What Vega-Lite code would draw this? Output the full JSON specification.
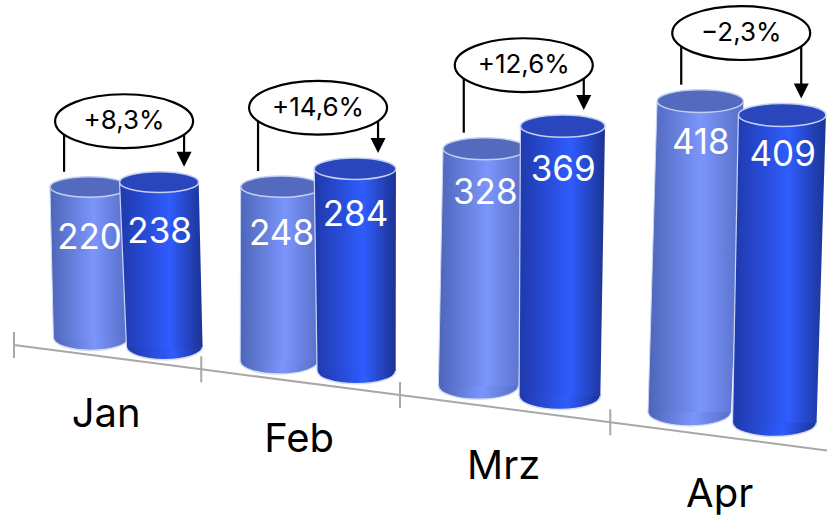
{"$schema":"https://vega.github.io/schema/vega-lite/v6.json","width":827,"height":515,"padding":0,"autosize":"none","background":"white","config":{"view":{"stroke":null}},
"datasets":{"bars":[
{"month":"Jan","series":"A","value":220,"change":"+8,3%"},{"month":"Jan","series":"B","value":238,"change":"+8,3%"},
{"month":"Feb","series":"A","value":248,"change":"+14,6%"},{"month":"Feb","series":"B","value":284,"change":"+14,6%"},
{"month":"Mrz","series":"A","value":328,"change":"+12,6%"},{"month":"Mrz","series":"B","value":369,"change":"+12,6%"},
{"month":"Apr","series":"A","value":418,"change":"−2,3%"},{"month":"Apr","series":"B","value":409,"change":"−2,3%"}],
"axisTicks":[{"tick":0,"month":"Jan"},{"tick":1,"month":"Feb"},{"tick":2,"month":"Mrz"},{"tick":3,"month":"Apr"},{"tick":4,"month":""}]},
"layer":[
{"data":{"name":"axisTicks"},"transform":[{"calculate":"14+181.5*datum.tick+5.75*datum.tick*datum.tick","as":"ax"},{"calculate":"345+0.1297*(datum.ax-14)","as":"ay"}],"mark":{"type":"line","color":"#a8a8a8","strokeWidth":2,"clip":true},"encoding":{"x":{"field":"ax","type":"quantitative","scale":{"domain":[0,827],"nice":false,"zero":false},"axis":null},"y":{"field":"ay","type":"quantitative","scale":{"domain":[0,515],"nice":false,"zero":false,"reverse":true},"axis":null}}},
{"data":{"name":"axisTicks"},"transform":[{"filter":"datum.tick<4"},{"calculate":"14+181.5*datum.tick+5.75*datum.tick*datum.tick","as":"ax"},{"calculate":"345+0.1297*(datum.ax-14)-13","as":"a1"},{"calculate":"datum.a1+26","as":"a2"}],"mark":{"type":"rule","color":"#a8a8a8","strokeWidth":2},"encoding":{"x":{"field":"ax","type":"quantitative"},"y":{"field":"a1","type":"quantitative"},"y2":{"field":"a2"}}},
{"data":{"name":"axisTicks"},"transform":[{"filter":"datum.tick<4"},{"calculate":"14+181.5*(datum.tick+0.5)+5.75*(datum.tick+0.5)*(datum.tick+0.5)","as":"lx"},{"calculate":"345+0.1297*(datum.lx-14)+58","as":"ly"}],"mark":{"type":"text","font":"Inter","fontSize":40,"color":"#000","align":"center","baseline":"middle"},"encoding":{"x":{"field":"lx","type":"quantitative"},"y":{"field":"ly","type":"quantitative"},"text":{"field":"month"}}},
{"data":{"name":"bars"},"layer":[
{"transform":[{"filter":"datum.series=='A'"}],"mark":{"type":"point","shape":"M-1,0A1,0.33,0,1,1,1,0A1,0.33,0,1,1,-1,0Z","filled":true,"opacity":1,"stroke":"#d5def8","strokeWidth":1.5,"fill":{"gradient":"linear","x1":0,"y1":0,"x2":1,"y2":0,"stops":[{"offset":0,"color":"#4d65b8"},{"offset":0.55,"color":"#7b95fb"},{"offset":1,"color":"#566ec6"}]}},"encoding":{"x":{"field":"xBase","type":"quantitative"},"y":{"field":"yBase","type":"quantitative"},"size":{"field":"sBase","type":"quantitative","scale":null}}},
{"transform":[{"filter":"datum.series=='A'"},{"fold":["yTop","yBase"],"as":["end","py"]},{"calculate":"datum.end=='yTop'?datum.xTopL:datum.xBaseL","as":"p1"},{"calculate":"datum.end=='yTop'?datum.xTopR:datum.xBaseR","as":"p2"}],"mark":{"type":"area","orient":"horizontal","opacity":1,"fill":{"gradient":"linear","x1":0,"y1":0,"x2":1,"y2":0,"stops":[{"offset":0,"color":"#4d65b8"},{"offset":0.55,"color":"#7b95fb"},{"offset":1,"color":"#566ec6"}]}},"encoding":{"y":{"field":"py","type":"quantitative"},"x":{"field":"p1","type":"quantitative"},"x2":{"field":"p2"},"detail":{"field":"month"}}},
{"transform":[{"filter":"datum.series=='A'"}],"mark":{"type":"rule","color":"#c9d5f5","strokeWidth":1},"encoding":{"x":{"field":"xTopL","type":"quantitative"},"x2":{"field":"xBaseL"},"y":{"field":"yTop","type":"quantitative"},"y2":{"field":"yBase"}}},
{"transform":[{"filter":"datum.series=='A'"}],"mark":{"type":"point","shape":"M-1,0A1,0.2625,0,1,1,1,0A1,0.2625,0,1,1,-1,0Z","filled":true,"opacity":1,"stroke":"#c3d0f2","strokeWidth":1.5,"fill":"#536abf"},"encoding":{"x":{"field":"xTop","type":"quantitative"},"y":{"field":"yTop","type":"quantitative"},"size":{"field":"sTop","type":"quantitative","scale":null}}},
{"transform":[{"filter":"datum.series=='B'"}],"mark":{"type":"point","shape":"M-1,0A1,0.33,0,1,1,1,0A1,0.33,0,1,1,-1,0Z","filled":true,"opacity":1,"stroke":"#d5def8","strokeWidth":1.5,"fill":{"gradient":"linear","x1":0,"y1":0,"x2":1,"y2":0,"stops":[{"offset":0,"color":"#1f39ab"},{"offset":0.6,"color":"#2f5cfd"},{"offset":1,"color":"#1c3393"}]}},"encoding":{"x":{"field":"xBase","type":"quantitative"},"y":{"field":"yBase","type":"quantitative"},"size":{"field":"sBase","type":"quantitative","scale":null}}},
{"transform":[{"filter":"datum.series=='B'"},{"fold":["yTop","yBase"],"as":["end","py"]},{"calculate":"datum.end=='yTop'?datum.xTopL:datum.xBaseL","as":"p1"},{"calculate":"datum.end=='yTop'?datum.xTopR:datum.xBaseR","as":"p2"}],"mark":{"type":"area","orient":"horizontal","opacity":1,"fill":{"gradient":"linear","x1":0,"y1":0,"x2":1,"y2":0,"stops":[{"offset":0,"color":"#1f39ab"},{"offset":0.6,"color":"#2f5cfd"},{"offset":1,"color":"#1c3393"}]}},"encoding":{"y":{"field":"py","type":"quantitative"},"x":{"field":"p1","type":"quantitative"},"x2":{"field":"p2"},"detail":{"field":"month"}}},
{"transform":[{"filter":"datum.series=='B'"}],"mark":{"type":"rule","color":"#c9d5f5","strokeWidth":1.2},"encoding":{"x":{"field":"xTopL","type":"quantitative"},"x2":{"field":"xBaseL"},"y":{"field":"yTop","type":"quantitative"},"y2":{"field":"yBase"}}},
{"transform":[{"filter":"datum.series=='B'"}],"mark":{"type":"point","shape":"M-1,0A1,0.2625,0,1,1,1,0A1,0.2625,0,1,1,-1,0Z","filled":true,"opacity":1,"stroke":"#c3d0f2","strokeWidth":1.5,"fill":"#2a46bc"},"encoding":{"x":{"field":"xTop","type":"quantitative"},"y":{"field":"yTop","type":"quantitative"},"size":{"field":"sTop","type":"quantitative","scale":null}}},
{"transform":[{"calculate":"datum.yTop+52-0.015*datum.xBase","as":"ly"},{"calculate":"datum.xTop+0.5","as":"lx"}],"mark":{"type":"text","font":"Inter","fontSize":35,"color":"#fff","align":"center","baseline":"middle"},"encoding":{"x":{"field":"lx","type":"quantitative"},"y":{"field":"ly","type":"quantitative"},"text":{"field":"value"}}},
{"transform":[{"filter":"datum.series=='A'"}],"mark":{"type":"rule","color":"#000","strokeWidth":2.2},"encoding":{"x":{"field":"xL","type":"quantitative"},"y":{"field":"cy","type":"quantitative"},"y2":{"field":"stemEnd"}}},
{"transform":[{"filter":"datum.series=='B'"},{"calculate":"datum.stemEnd-7.5","as":"ah"}],"mark":{"type":"rule","color":"#000","strokeWidth":2.2},"encoding":{"x":{"field":"xR","type":"quantitative"},"y":{"field":"cy","type":"quantitative"},"y2":{"field":"ah"}}},
{"transform":[{"filter":"datum.series=='B'"},{"calculate":"datum.stemEnd-7.5","as":"ah"}],"mark":{"type":"point","shape":"M-1,-1L1,-1L0,1Z","filled":true,"opacity":1,"fill":"#000","size":225},"encoding":{"x":{"field":"xR","type":"quantitative"},"y":{"field":"ah","type":"quantitative"}}},
{"transform":[{"filter":"datum.series=='A'"}],"mark":{"type":"point","shape":"M-1,0A1,0.39,0,1,1,1,0A1,0.39,0,1,1,-1,0Z","filled":true,"opacity":1,"fill":"#fff","stroke":"#000","strokeWidth":2.2,"size":19044},"encoding":{"x":{"field":"cx","type":"quantitative"},"y":{"field":"cy","type":"quantitative"}}},
{"transform":[{"filter":"datum.series=='A'"}],"mark":{"type":"text","font":"Inter","fontSize":26,"color":"#000","align":"center","baseline":"middle"},"encoding":{"x":{"field":"cx","type":"quantitative"},"y":{"field":"cy","type":"quantitative"},"text":{"field":"change"}}}
],
"transform":[
{"calculate":"indexof(['Jan','Feb','Mrz','Apr'],datum.month)","as":"m"},
{"calculate":"datum.series=='B'?1:0","as":"s"},
{"calculate":"91+182.25*datum.m+5.75*datum.m*datum.m+datum.s*(73.5+3.85*datum.m)","as":"xBase"},
{"calculate":"326.7+0.124*datum.xBase","as":"yBase"},
{"calculate":"datum.yBase-(0.677+0.0000975*datum.xBase)*datum.value","as":"yTop"},
{"calculate":"datum.xBase+0.0213*(datum.xBase-300)+(datum.s==1?-2.5:2.5)","as":"xTop"},
{"calculate":"77+0.0135*datum.xTop","as":"wTop"},
{"calculate":"74+0.013*datum.xBase","as":"wBase"},
{"calculate":"datum.wTop*datum.wTop","as":"sTop"},
{"calculate":"datum.wBase*datum.wBase","as":"sBase"},
{"calculate":"datum.xTop-datum.wTop/2","as":"xTopL"},
{"calculate":"datum.xTop+datum.wTop/2","as":"xTopR"},
{"calculate":"datum.xBase-datum.wBase/2","as":"xBaseL"},
{"calculate":"datum.xBase+datum.wBase/2","as":"xBaseR"},
{"joinaggregate":[{"op":"mean","field":"xTop","as":"cx"},{"op":"min","field":"yTop","as":"minTop"}],"groupby":["month"]},
{"calculate":"datum.minTop-(datum.m==3?68:61)","as":"cy"},
{"calculate":"datum.cx-60","as":"xL"},
{"calculate":"datum.cx+60","as":"xR"},
{"calculate":"datum.yTop-datum.wTop*0.132-5","as":"stemEnd"}
]}
]}
